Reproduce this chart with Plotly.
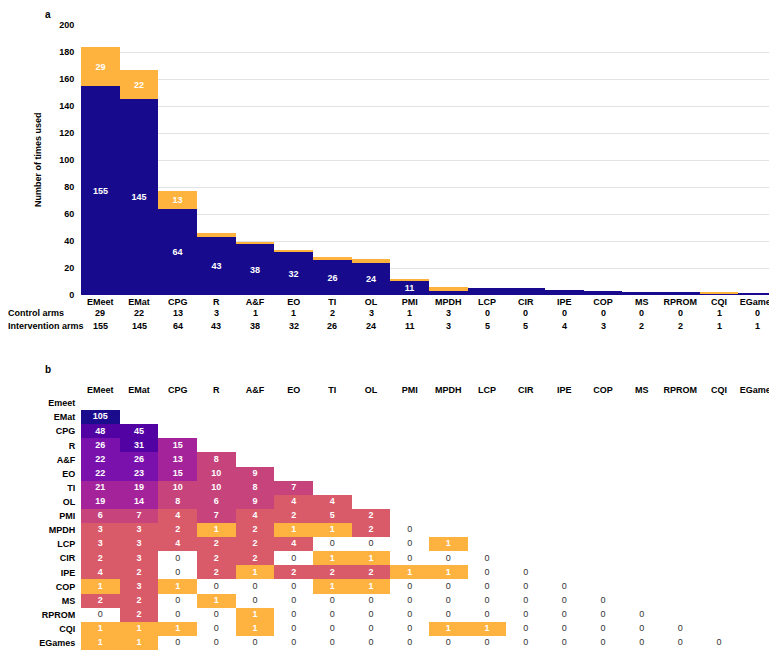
import plotly.graph_objects as go

# ---------------- data ----------------
categories = ["EMeet", "EMat", "CPG", "R", "A&F", "EO", "TI", "OL", "PMI", "MPDH",
              "LCP", "CIR", "IPE", "COP", "MS", "RPROM", "CQI", "EGames"]
control_arms = [29, 22, 13, 3, 1, 1, 2, 3, 1, 3, 0, 0, 0, 0, 0, 0, 1, 0]
intervention_arms = [155, 145, 64, 43, 38, 32, 26, 24, 11, 3, 5, 5, 4, 3, 2, 2, 1, 1]
y_ticks = [0, 20, 40, 60, 80, 100, 120, 140, 160, 180, 200]

row_labels = ["Emeet", "EMat", "CPG", "R", "A&F", "EO", "TI", "OL", "PMI", "MPDH",
              "LCP", "CIR", "IPE", "COP", "MS", "RPROM", "CQI", "EGames"]
co_use = [
    [],
    [105],
    [48, 45],
    [26, 31, 15],
    [22, 26, 13, 8],
    [22, 23, 15, 10, 9],
    [21, 19, 10, 10, 8, 7],
    [19, 14, 8, 6, 9, 4, 4],
    [6, 7, 4, 7, 4, 2, 5, 2],
    [3, 3, 2, 1, 2, 1, 1, 2, 0],
    [3, 3, 4, 2, 2, 4, 0, 0, 0, 1],
    [2, 3, 0, 2, 2, 0, 1, 1, 0, 0, 0],
    [4, 2, 0, 2, 1, 2, 2, 2, 1, 1, 0, 0],
    [1, 3, 1, 0, 0, 0, 1, 1, 0, 0, 0, 0, 0],
    [2, 2, 0, 1, 0, 0, 0, 0, 0, 0, 0, 0, 0, 0],
    [0, 2, 0, 0, 1, 0, 0, 0, 0, 0, 0, 0, 0, 0, 0],
    [1, 1, 1, 0, 1, 0, 0, 0, 0, 1, 1, 0, 0, 0, 0, 0],
    [1, 1, 0, 0, 0, 0, 0, 0, 0, 0, 0, 0, 0, 0, 0, 0, 0],
]

# ---------------- styling ----------------
OX, OY = 8, 8            # page body margin
W, H = 777 - OX, 651 - OY
PL, PR = 81, 777          # plot left/right in page pixels
FONT = "Liberation Sans, Arial, Helvetica, sans-serif"
NAVY = "#170a8c"
ORANGE = "#fdb33e"
level_colors = ["#ffffff", "#feb23f", "#d95a68", "#c6437c", "#a5239a",
                "#7b11ac", "#5202a3", "#1b0c8e"]
level_bounds = [0, 1, 2, 6, 11, 22, 30, 100]


def px_x(px):
    return (px - PL) / (PR - PL)


def px_y(py):
    return (H - (py - OY)) / H


def clamp(v):
    return min(1.0, max(0.0, v))


def level(v):
    lv = 0
    for i, b in enumerate(level_bounds):
        if v >= b:
            lv = i
    return lv


fig = go.Figure()

# ---- panel a: stacked bars ----
fig.add_trace(go.Bar(
    x=categories, y=intervention_arms, name="Intervention arms",
    marker=dict(color=NAVY, line=dict(width=0)),
    text=[str(v) if v >= 10 else "" for v in intervention_arms],
    textposition="inside", insidetextanchor="middle", textangle=0,
    constraintext="none",
    textfont=dict(color="white", size=9, family=FONT, weight="bold"),
    xaxis="x", yaxis="y", showlegend=False,
))
fig.add_trace(go.Bar(
    x=categories, y=control_arms, name="Control arms",
    marker=dict(color=ORANGE, line=dict(width=0)),
    text=[str(v) if v >= 10 else "" for v in control_arms],
    textposition="inside", insidetextanchor="middle", textangle=0,
    constraintext="none",
    textfont=dict(color="white", size=9, family=FONT, weight="bold"),
    xaxis="x", yaxis="y", showlegend=False,
))

# ---- panel b: heatmap ----
n = len(categories)
z = []
for i in range(n):
    row = []
    for j in range(n):
        if j < len(co_use[i]):
            row.append(level(co_use[i][j]))
        else:
            row.append(None)
    z.append(row)

cs = []
nl = len(level_colors)
for k, c in enumerate(level_colors):
    cs.append([k / nl, c])
    cs.append([(k + 1) / nl, c])

fig.add_trace(go.Heatmap(
    x=categories, y=row_labels, z=z, colorscale=cs, zmin=-0.5, zmax=nl - 0.5,
    showscale=False, xgap=0, ygap=0, hoverinfo="skip",
    xaxis="x2", yaxis="y2",
))

tx_nz, ty_nz, tt_nz, tx_z, ty_z = [], [], [], [], []
for i in range(n):
    for j, v in enumerate(co_use[i]):
        if v == 0:
            tx_z.append(categories[j]); ty_z.append(row_labels[i])
        else:
            tx_nz.append(categories[j]); ty_nz.append(row_labels[i]); tt_nz.append(str(v))

fig.add_trace(go.Scatter(
    x=tx_nz, y=ty_nz, text=tt_nz, mode="text",
    textfont=dict(color="white", size=9, family=FONT, weight="bold"),
    xaxis="x2", yaxis="y2", showlegend=False, hoverinfo="skip",
))
fig.add_trace(go.Scatter(
    x=tx_z, y=ty_z, text=["0"] * len(tx_z), mode="text",
    textfont=dict(color="#333333", size=9, family=FONT),
    xaxis="x2", yaxis="y2", showlegend=False, hoverinfo="skip",
))

bold9 = dict(size=9, family=FONT, color="black", weight="bold")


def note(text, xp, yp, font=bold9, xanchor="center", **kw):
    return dict(text=text, x=px_x(xp), y=px_y(yp), xref="paper", yref="paper",
                xanchor=xanchor, yanchor="middle", showarrow=False, font=font, **kw)


big = dict(size=10, family=FONT, color="black", weight="bold")
annotations = [
    note("a", 47.5, 15, big),
    note("b", 47.5, 369, big),
    note("Number of times used", 38, 160, textangle=-90),
    note("Control arms", 6, 313, xanchor="left"),
    note("Intervention arms", 6, 326, xanchor="left"),
]
for c, cv, iv in zip(categories, control_arms, intervention_arms):
    annotations.append(dict(text=str(cv), x=c, y=px_y(313), xref="x", yref="paper",
                            yanchor="middle", showarrow=False, font=bold9))
    annotations.append(dict(text=str(iv), x=c, y=px_y(326), xref="x", yref="paper",
                            yanchor="middle", showarrow=False, font=bold9))

shapes = [
    dict(type="rect", xref="paper", yref="paper", x0=px_x(1), x1=px_x(4.5),
         y0=px_y(316), y1=px_y(312), fillcolor=ORANGE, line=dict(width=0)),
    dict(type="rect", xref="paper", yref="paper", x0=px_x(1), x1=px_x(4.5),
         y0=px_y(329), y1=px_y(325), fillcolor=NAVY, line=dict(width=0)),
]

fig.update_layout(
    template="none",
    width=W, height=H,
    margin=dict(l=PL - OX, r=0, t=0, b=0, autoexpand=False),
    paper_bgcolor="white", plot_bgcolor="white",
    barmode="stack", bargap=0,
    font=dict(family=FONT, size=9, color="black"),
    xaxis=dict(domain=[0, 1], anchor="y", type="category", categoryorder="array",
               categoryarray=categories, range=[-0.5, n - 0.5], automargin=False,
               showgrid=False, showline=False, zeroline=False,
               tickfont=bold9, ticks=""),
    yaxis=dict(domain=[clamp(px_y(295)), clamp(px_y(25))], anchor="x", range=[0, 200],
               automargin=False,
               tickvals=y_ticks, showgrid=True, gridcolor="#e3e3e3", gridwidth=1,
               zeroline=False, showline=False, tickfont=bold9,
               ticks="outside", ticklen=4, tickcolor="rgba(0,0,0,0)"),
    xaxis2=dict(domain=[0, 1], anchor="y2", side="top", type="category", automargin=False,
                categoryorder="array", categoryarray=categories, range=[-0.5, n - 0.5],
                showgrid=False, showline=False, zeroline=False, tickfont=bold9,
                ticks=""),
    yaxis2=dict(domain=[clamp(px_y(650)), clamp(px_y(396))], anchor="x2", type="category",
                automargin=False,
                categoryorder="array", categoryarray=row_labels,
                range=[n - 0.5, -0.5], showgrid=False, showline=False, zeroline=False,
                tickfont=bold9, ticks="outside", ticklen=3, tickcolor="rgba(0,0,0,0)"),
    annotations=annotations,
    shapes=shapes,
)

fig.write_html("out.html")
